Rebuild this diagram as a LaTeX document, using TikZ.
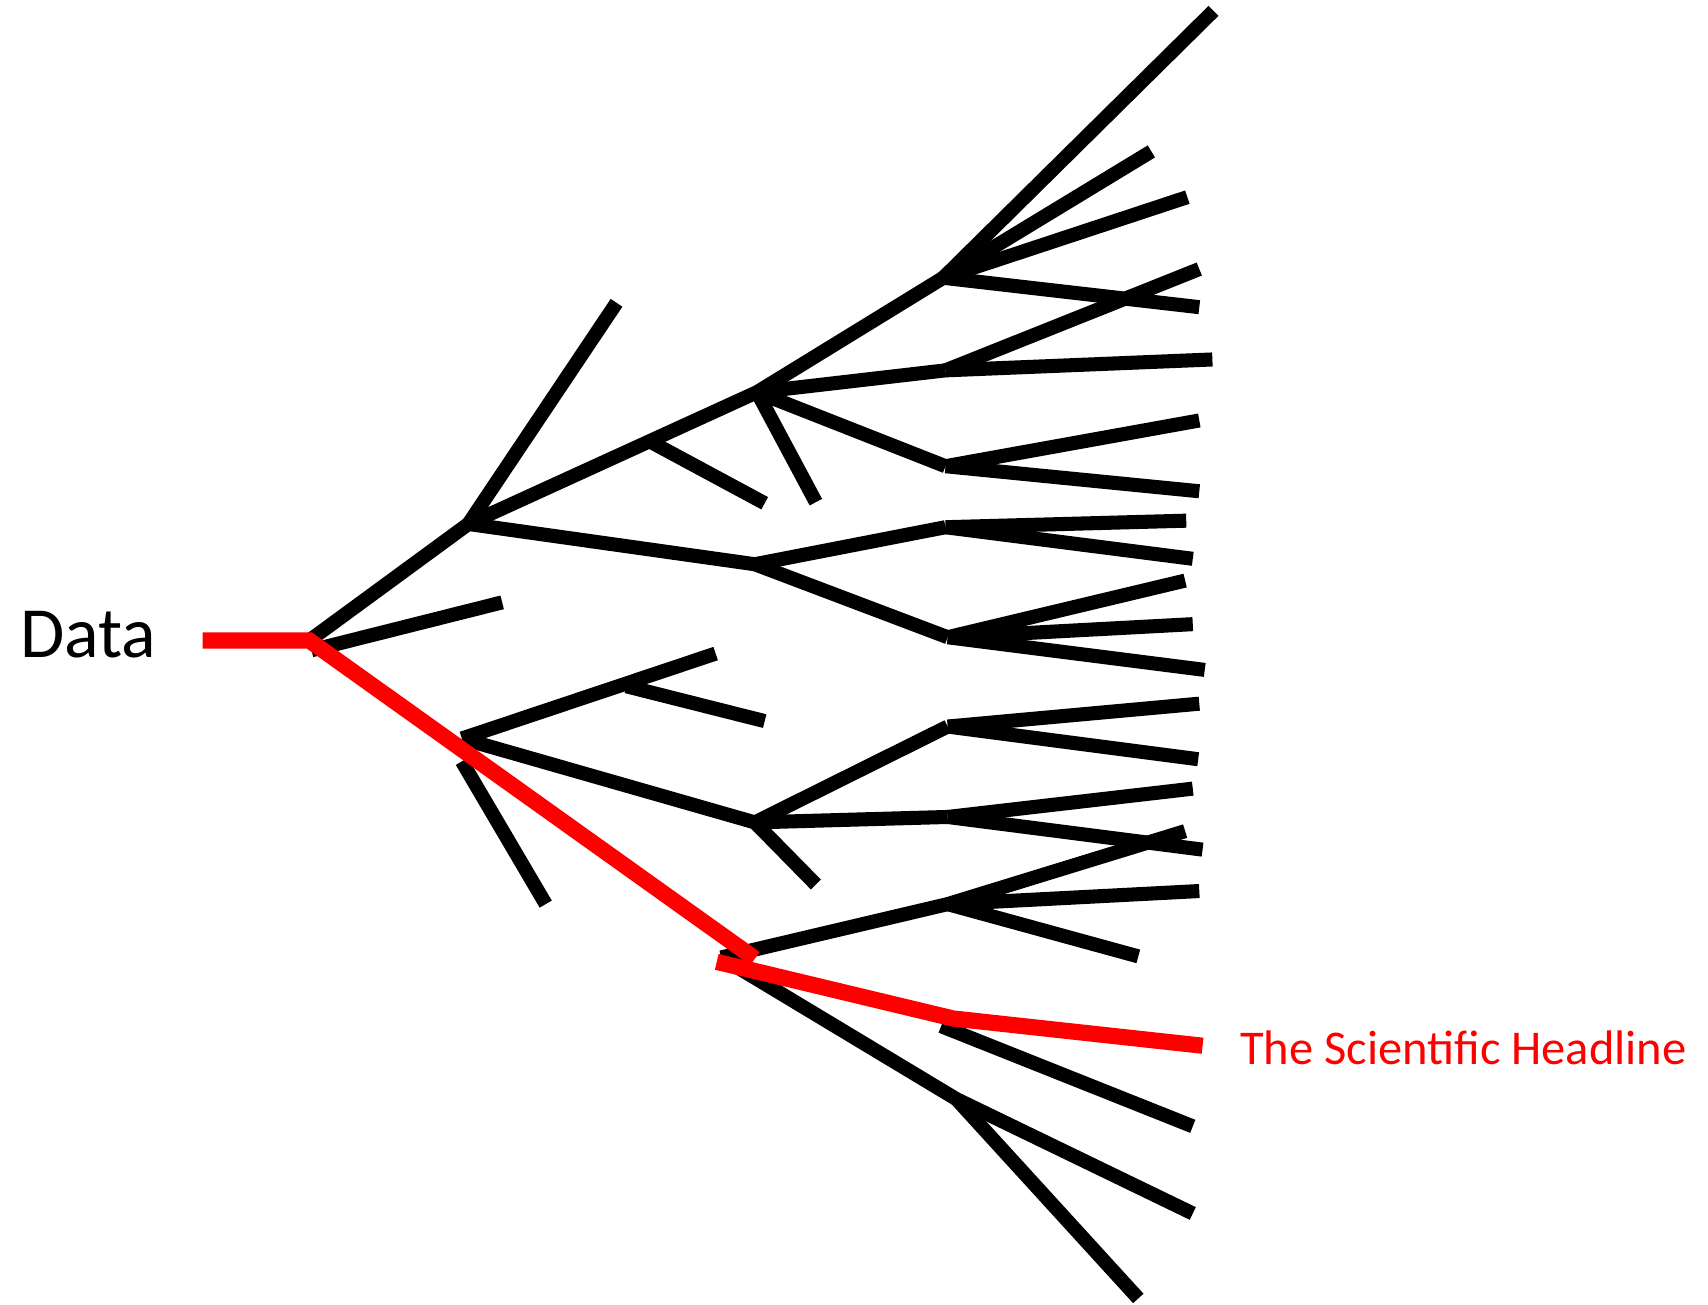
\documentclass[tikz,border=0pt]{standalone}
\usepackage{fontspec}
\setmainfont{Carlito}

\begin{document}
\begin{tikzpicture}[
  x=0.010893cm, y=-0.010893cm,
  branch/.style={
    draw=black,
    line width=4pt
  },
  redpath/.style={
    draw=red,
    line width=4.6pt
  },
  textlabel/.style={inner sep=0pt, anchor=base west},
  datafont/.style={font=\fontsize{20.5}{24}\selectfont},
  headfont/.style={font=\fontsize{13.8}{16}\selectfont, text=red}
]
\useasboundingbox (0,0) rectangle (1568,1198);

% forks
\coordinate (root) at (284,588);
\coordinate (root1) at (286,597);
\coordinate (a) at (430,481);
\coordinate (c1) at (598,406);
\coordinate (c) at (695,360);
\coordinate (b) at (693,518);
\coordinate (d) at (866,255);
\coordinate (e) at (868,340);
\coordinate (f) at (868,428);
\coordinate (g1) at (868,484);
\coordinate (g) at (870,585);
\coordinate (h) at (424,678);
\coordinate (h1) at (575,630);
\coordinate (h2) at (424,699);
\coordinate (i) at (693,755);
\coordinate (j) at (870,667);
\coordinate (k) at (870,750);
\coordinate (m) at (662,879);
\coordinate (l) at (870,830);
\coordinate (n) at (878,1009);
\coordinate (o) at (864,942);

% tips
\coordinate (ta1) at (461,553);
\coordinate (ta2) at (566,278);
\coordinate (tc1) at (702,462);
\coordinate (tc2) at (749,461);
\coordinate (td1) at (1114,10);
\coordinate (td2) at (1057,139);
\coordinate (td3) at (1090,181);
\coordinate (td4) at (1101,282);
\coordinate (te1) at (1101,247);
\coordinate (te2) at (1113,330);
\coordinate (tf1) at (1101,386);
\coordinate (tf2) at (1101,451);
\coordinate (tg1) at (1089,478);
\coordinate (tg2) at (1095,513);
\coordinate (tg3) at (1088,533);
\coordinate (tg4) at (1095,573);
\coordinate (tg5) at (1106,615);
\coordinate (th1) at (657,600);
\coordinate (th2) at (702,662);
\coordinate (th3) at (501,830);
\coordinate (ti1) at (749,812);
\coordinate (tj1) at (1101,646);
\coordinate (tj2) at (1100,697);
\coordinate (tk1) at (1095,724);
\coordinate (tk2) at (1104,780);
\coordinate (tl1) at (1088,763);
\coordinate (tl2) at (1101,818);
\coordinate (tl3) at (1045,878);
\coordinate (tn1) at (1095,1114);
\coordinate (tn2) at (1045,1192);
\coordinate (to1) at (1095,1034);

% red path ends
\coordinate (rs) at (186,588);
\coordinate (rm) at (693,880);
\coordinate (rf) at (658,883);
\coordinate (rb) at (875,935);
\coordinate (re) at (1104,960);

% upper tree
\draw[branch] (root) -- (a);
\draw[branch] (root1) -- (ta1);
\draw[branch] (a) -- (ta2);
\draw[branch] (a) -- (c);
\draw[branch] (c1) -- (tc1);
\draw[branch] (c) -- (tc2);
\draw[branch] (c) -- (d);
\draw[branch] (c) -- (e);
\draw[branch] (c) -- (f);
\draw[branch] (d) -- (td1);
\draw[branch] (d) -- (td2);
\draw[branch] (d) -- (td3);
\draw[branch] (d) -- (td4);
\draw[branch] (e) -- (te1);
\draw[branch] (e) -- (te2);
\draw[branch] (f) -- (tf1);
\draw[branch] (f) -- (tf2);
\draw[branch] (a) -- (b);
\draw[branch] (b) -- (g1);
\draw[branch] (g1) -- (tg1);
\draw[branch] (g1) -- (tg2);
\draw[branch] (b) -- (g);
\draw[branch] (g) -- (tg3);
\draw[branch] (g) -- (tg4);
\draw[branch] (g) -- (tg5);

% lower tree
\draw[branch] (h) -- (th1);
\draw[branch] (h1) -- (th2);
\draw[branch] (h2) -- (th3);
\draw[branch] (h) -- (i);
\draw[branch] (i) -- (ti1);
\draw[branch] (i) -- (j);
\draw[branch] (i) -- (k);
\draw[branch] (j) -- (tj1);
\draw[branch] (j) -- (tj2);
\draw[branch] (k) -- (tk1);
\draw[branch] (k) -- (tk2);
\draw[branch] (m) -- (l);
\draw[branch] (l) -- (tl1);
\draw[branch] (l) -- (tl2);
\draw[branch] (l) -- (tl3);
\draw[branch] (m) -- (n);
\draw[branch] (n) -- (tn1);
\draw[branch] (n) -- (tn2);
\draw[branch] (o) -- (to1);

% the chosen path
\draw[redpath] (rs) -- (root) -- (rm);
\draw[redpath] (rf) -- (rb) -- (re);

\node[textlabel, datafont] (data) at (18,604) {Data};
\node[textlabel, headfont] (headline) at (1138,977) {The Scientific Headline};

\end{tikzpicture}
\end{document}
